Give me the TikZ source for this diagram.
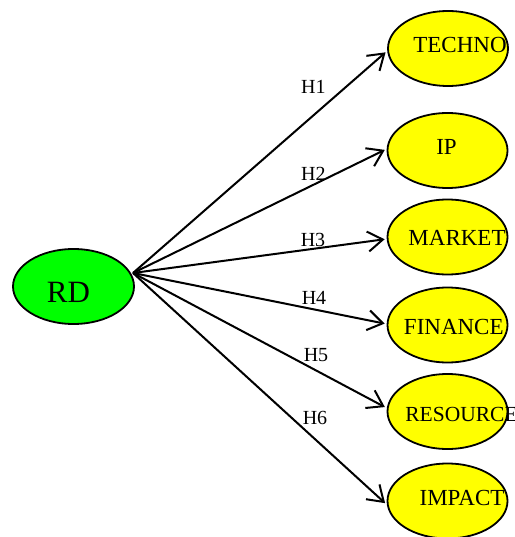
\documentclass[tikz,border=0pt]{standalone}
\usepackage{fontspec}
\setmainfont{Liberation Serif}
\usetikzlibrary{arrows.meta,shapes.geometric}

\definecolor{rdgreen}{RGB}{0,255,0}
\definecolor{hyellow}{RGB}{255,255,0}

\tikzset{
  root/.style={ellipse, draw=black, line width=1.8pt, fill=rdgreen,
    minimum width=121pt, minimum height=75pt, inner sep=0pt},
  leaf/.style={ellipse, draw=black, line width=1.8pt, fill=hyellow,
    minimum width=120pt, minimum height=75pt, inner sep=0pt},
  nodetext/.style={inner sep=0pt, font=\fontsize{23}{26}\selectfont},
  edge/.style={draw=black, line width=2pt, shorten >=2pt,
    -{Straight Barb[length=15pt, width=20pt, line width=2pt]}},
  elab/.style={inner sep=0pt, font=\fontsize{20}{22}\selectfont},
}

\begin{document}
\begin{tikzpicture}[x=1pt, y=-1pt]
  \useasboundingbox (0,0) rectangle (514,537);

  % source node
  \node[root, label={[nodetext, font=\fontsize{31}{34}\selectfont,
      xshift=-5pt, yshift=-5.5pt]center:RD}] (rd) at (73.5,286.5) {};
  \coordinate (hub) at ([shift={(59.5pt,13.5pt)}]rd.center);

  % target nodes
  \node[leaf, label={[nodetext, xshift=12pt, yshift=3.5pt]center:TECHNO}]
    (techno) at (448,48.5) {};
  \node[leaf, label={[nodetext, xshift=-1pt, yshift=4pt]center:IP}]
    (ip) at (447.5,150.5) {};
  \node[leaf, label={[nodetext, xshift=9.5pt, yshift=-1pt]center:MARKET}]
    (market) at (447.5,237) {};
  \node[leaf, label={[nodetext, xshift=6.3pt, yshift=-1.5pt]center:FINANCE}]
    (finance) at (447.5,325) {};
  \node[leaf, label={[nodetext, font=\fontsize{21.5}{24}\selectfont,
      xshift=14pt, yshift=-2.5pt]center:RESOURCE}]
    (resource) at (447.5,411.5) {};
  \node[leaf, label={[nodetext, xshift=14.5pt, yshift=3pt]center:IMPACT}]
    (impact) at (447.5,501) {};

  % hypothesis edges
  \draw[edge] (hub) -- ([yshift=-2.5pt]techno.west);
  \draw[edge] (hub) -- ([yshift=1.5pt]ip.west);
  \draw[edge] (hub) -- ([yshift=-2pt]market.west);
  \draw[edge] (hub) -- ([yshift=1pt]finance.west);
  \draw[edge] (hub) -- ([yshift=3.5pt]resource.west);
  \draw[edge] (hub) -- ([yshift=-3.5pt]impact.west);

  % edge labels
  \node[elab] (h1) at (313.3,87.3) {H1};
  \node[elab] (h2) at (313.3,174) {H2};
  \node[elab] (h3) at (313,240) {H3};
  \node[elab] (h4) at (314,298.3) {H4};
  \node[elab] (h5) at (316,355) {H5};
  \node[elab] (h6) at (315,418) {H6};
\end{tikzpicture}
\end{document}
